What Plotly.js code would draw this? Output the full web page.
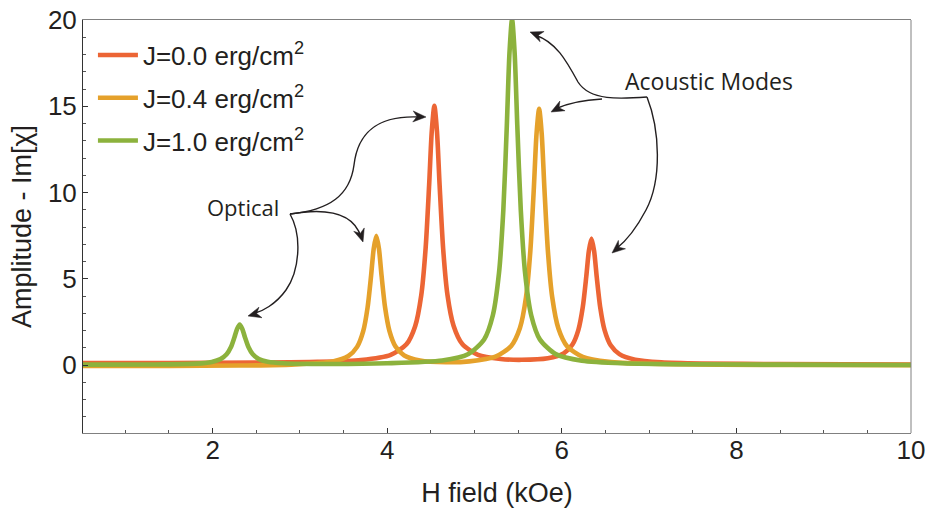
<!DOCTYPE html>
<html>
<head>
<meta charset="utf-8">
<script src="https://cdn.plot.ly/plotly-3.0.1.min.js"></script>
<style>html,body{margin:0;padding:0;background:#fff;}#chart{width:928px;height:508px;}</style>
</head>
<body>
<div id="chart"></div>
<script>
// ---- data ----
const seriesNames = ['J=0.0 erg/cm<sup>2</sup>', 'J=0.4 erg/cm<sup>2</sup>', 'J=1.0 erg/cm<sup>2</sup>'];

const redX = [0.5, 1.5, 2.5, 3.2, 3.7, 4.04, 4.22, 4.32, 4.39, 4.44, 4.48, 4.51, 4.54, 4.57, 4.60, 4.64, 4.69, 4.76, 4.86, 5.04, 5.3, 5.54, 5.84, 6.02, 6.12, 6.19, 6.24, 6.28, 6.31, 6.34, 6.37, 6.40, 6.44, 6.49, 6.56, 6.66, 6.84, 7.14, 7.6, 8.5, 10];
const redY = [0.13, 0.13, 0.15, 0.19, 0.30, 0.60, 1.21, 2.26, 4.06, 6.79, 10.43, 13.53, 15.03, 13.53, 10.44, 6.80, 4.07, 2.28, 1.22, 0.60, 0.36, 0.31, 0.40, 0.68, 1.18, 2.05, 3.36, 5.12, 6.62, 7.33, 6.61, 5.11, 3.35, 2.03, 1.15, 0.64, 0.32, 0.17, 0.10, 0.06, 0.04];

const orangeX = [0.5, 1.5, 2.3, 2.9, 3.375, 3.555, 3.655, 3.725, 3.775, 3.815, 3.845, 3.875, 3.905, 3.935, 3.975, 4.025, 4.095, 4.195, 4.375, 4.675, 4.94, 5.24, 5.42, 5.52, 5.59, 5.64, 5.68, 5.71, 5.74, 5.77, 5.80, 5.84, 5.89, 5.96, 6.06, 6.24, 6.54, 7.0, 7.8, 9, 10];
const orangeY = [-0.05, -0.04, -0.02, 0.03, 0.21, 0.53, 1.06, 1.97, 3.34, 5.18, 6.74, 7.49, 6.75, 5.19, 3.36, 1.99, 1.08, 0.56, 0.27, 0.17, 0.22, 0.49, 1.11, 2.15, 3.95, 6.66, 10.29, 13.38, 14.86, 13.38, 10.29, 6.66, 3.94, 2.14, 1.10, 0.48, 0.19, 0.08, 0.03, 0.01, 0.0];

const greenX = [0.5, 1.3, 1.81, 1.99, 2.09, 2.16, 2.21, 2.25, 2.28, 2.31, 2.34, 2.37, 2.41, 2.46, 2.53, 2.63, 2.81, 3.3, 4.0, 4.63, 4.93, 5.11, 5.21, 5.28, 5.33, 5.37, 5.40, 5.43, 5.46, 5.49, 5.53, 5.58, 5.65, 5.75, 5.93, 6.23, 6.7, 7.5, 8.5, 10];
const greenY = [0.03, 0.04, 0.09, 0.19, 0.35, 0.63, 1.05, 1.62, 2.10, 2.35, 2.10, 1.62, 1.05, 0.63, 0.35, 0.20, 0.11, 0.07, 0.11, 0.27, 0.65, 1.49, 2.89, 5.32, 8.98, 13.88, 18.05, 20.06, 18.05, 13.88, 8.98, 5.31, 2.88, 1.48, 0.64, 0.26, 0.11, 0.05, 0.03, 0.01];

const xTickVals = [2, 4, 6, 8, 10];
const yTickVals = [0, 5, 10, 15, 20];
const annotationTexts = ['Optical', 'Acoustic Modes'];
const xTitle = 'H field (kOe)';
const yTitle = 'Amplitude - Im[\u03C7]';

// ---- styling / layout ----
const colors = ['#EC6535', '#E5A12B', '#8CB23D'];
const M = {l: 83, r: 17, t: 20, b: 75};
const W = 928, H = 508;
const PW = W - M.l - M.r, PH = H - M.t - M.b;
const XR = [0.515, 10], YR = [-3.93, 20];
const ink = '#231f20';
const numFont = 'Liberation Sans, Arial, Helvetica, sans-serif';
const noteFont = 'Open Sans, Lato, sans-serif';

function toD(px, py) {
  return [XR[0] + (px - M.l) * (XR[1] - XR[0]) / PW,
          YR[1] - (py - M.t) * (YR[1] - YR[0]) / PH];
}
function pt(px, py) { const d = toD(px, py); return d[0].toFixed(4) + ',' + d[1].toFixed(4); }
function pathToData(p) {
  return p.replace(/(-?\d+\.?\d*),(-?\d+\.?\d*)/g, (m, a, b) => pt(+a, +b));
}
// arrow curves (pixel sketch of the hand-drawn callouts)
const arrowPaths = [
  'M290,214 C330,210 350,195 354,165 C358,130 380,115 420,117',
  'M290,214 C330,207 354,214 361,237',
  'M290,214 C302,235 300,270 286,290 C276,304 262,312 252,314',
  'M647,97 C620,99 590,101 578,82 C566,60 556,42 535,35',
  'M602,99 C582,100 566,104 555,109',
  'M647,97 C660,130 662,180 646,210 C636,229 625,242 616,249'
];
const arrowTips = [[426, 117], [363, 242], [248, 316], [530, 32], [551, 112], [612, 253]];

const traces = [[redX, redY], [orangeX, orangeY], [greenX, greenY]].map((s, i) => ({
  x: s[0], y: s[1], type: 'scatter', mode: 'lines', name: seriesNames[i],
  legendgroup: 'g' + i,
  line: {color: colors[i], width: 4.6, shape: 'spline', smoothing: 0.7},
  cliponaxis: false, hoverinfo: 'skip'
}));

const shapes = arrowPaths.map(p => ({
  type: 'path', xref: 'x', yref: 'y', path: pathToData(p),
  line: {color: ink, width: 1.4}, layer: 'above'
}));
// filled arrowheads
arrowPaths.forEach((p, i) => {
  const nums = p.match(/-?\d+\.?\d*/g).map(Number);
  const n = nums.length;
  const cx = nums[n - 4], cy = nums[n - 3];
  const tx = arrowTips[i][0], ty = arrowTips[i][1];
  const dx = tx - cx, dy = ty - cy, L = Math.hypot(dx, dy);
  const ux = dx / L, uy = dy / L, nx = -uy, ny = ux;
  const len = 13, hw = 5.5, notch = 9;
  const path = 'M' + pt(tx, ty) +
    ' L' + pt(tx - len * ux + hw * nx, ty - len * uy + hw * ny) +
    ' L' + pt(tx - notch * ux, ty - notch * uy) +
    ' L' + pt(tx - len * ux - hw * nx, ty - len * uy - hw * ny) + ' Z';
  shapes.push({type: 'path', xref: 'x', yref: 'y', path: path, fillcolor: ink,
    line: {color: ink, width: 0.5}, layer: 'above'});
});
// right frame edge (lighter, like the top)
shapes.push({type: 'line', xref: 'paper', yref: 'paper', x0: 1, x1: 1, y0: 0, y1: 1,
  line: {color: '#808080', width: 1}});

const optPos = toD(243, 207), acPos = toD(709, 81);
const annotations = [
  {x: optPos[0], y: optPos[1], xref: 'x', yref: 'y', text: annotationTexts[0],
   showarrow: false, font: {family: noteFont, size: 22, color: ink}},
  {x: acPos[0], y: acPos[1], xref: 'x', yref: 'y', text: annotationTexts[1],
   showarrow: false, font: {family: noteFont, size: 23, color: ink}}
];

const layout = {
  width: W, height: H, margin: M,
  paper_bgcolor: '#fff', plot_bgcolor: '#fff',
  font: {family: numFont, color: ink},
  showlegend: true,
  legend: {x: 0.012, y: 0.972, xanchor: 'left', yanchor: 'top', bgcolor: 'rgba(0,0,0,0)',
    font: {family: numFont, size: 26, color: ink}, traceorder: 'grouped', tracegroupgap: 6,
    itemwidth: 40},
  xaxis: {range: XR, tickvals: xTickVals, ticks: 'inside', ticklen: 5, tickwidth: 1,
    tickcolor: '#333', showline: true, linecolor: '#808080', linewidth: 1, mirror: true,
    showgrid: false, zeroline: false, tickfont: {family: numFont, size: 26, color: ink},
    ticklabelposition: 'outside', ticklabelstandoff: -6,
    minor: {dtick: 0.5, tick0: 0, ticks: 'inside', ticklen: 3, tickcolor: '#555', showgrid: false},
    title: {text: xTitle, font: {family: numFont, size: 27, color: ink}, standoff: 18}},
  yaxis: {range: YR, tickvals: yTickVals, ticks: 'inside', ticklen: 5, tickwidth: 1,
    tickcolor: '#333', showline: true, linecolor: '#333', linewidth: 1, mirror: false,
    showgrid: false, zeroline: false, tickfont: {family: numFont, size: 26, color: ink},
    minor: {dtick: 1, tick0: 0, ticks: 'inside', ticklen: 3, tickcolor: '#555', showgrid: false},
    title: {text: yTitle, font: {family: numFont, size: 27, color: ink}, standoff: 8}},
  shapes: shapes,
  annotations: annotations
};

Plotly.newPlot('chart', traces, layout, {displayModeBar: false, staticPlot: true});
</script>
</body>
</html>
